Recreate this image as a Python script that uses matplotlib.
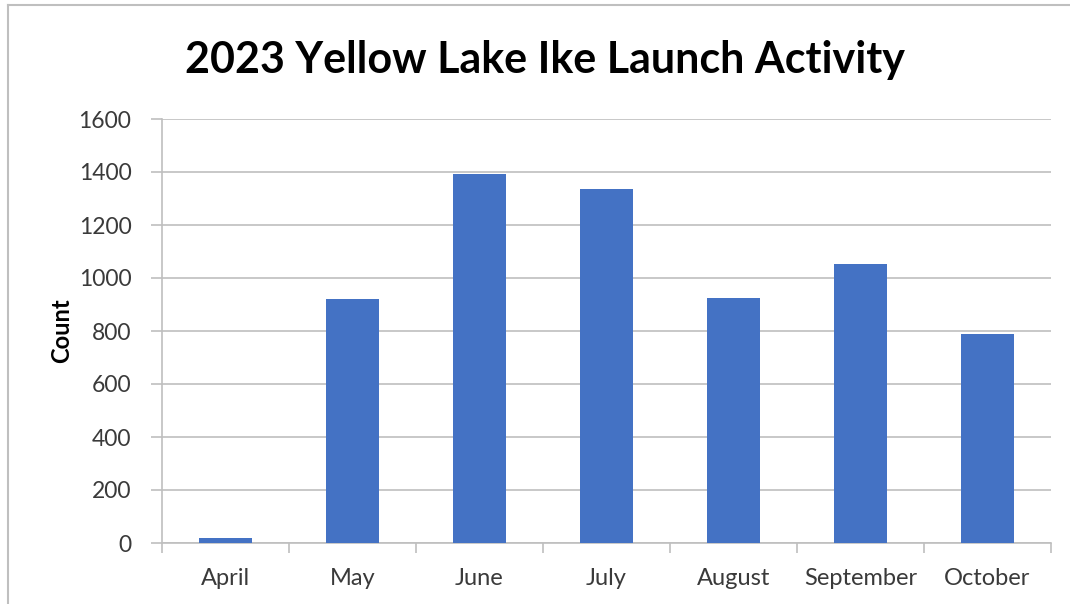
import matplotlib
matplotlib.use('Agg')
import matplotlib.pyplot as plt
from matplotlib.lines import Line2D

# ==================== Data ====================
months = ['April', 'May', 'June', 'July', 'August', 'September', 'October']
counts = [20, 920, 1393, 1336, 925, 1053, 789]
y_ticks = [0, 200, 400, 600, 800, 1000, 1200, 1400, 1600]

BAR_COLOR = '#4472C4'
GRID_COLOR = '#BFBFBF'
TEXT_COLOR = '#3A3A3A'

plt.rcParams.update({
    'font.family': ['Lato', 'DejaVu Sans'],
})

fig = plt.figure(figsize=(10.7, 6.04), dpi=100)
ax = fig.add_axes([162 / 1070, 1 - 543 / 604, 889 / 1070, 424 / 604])

x = list(range(len(months)))
ax.bar(x, counts, width=0.41, color=BAR_COLOR, zorder=3)

ax.set_xlim(-0.5, len(months) - 0.5)
ax.set_ylim(0, 1600)
ax.set_yticks(y_ticks)
ax.set_yticklabels([str(v) for v in y_ticks], fontsize=16.5, color=TEXT_COLOR)
ax.yaxis.grid(True, color=GRID_COLOR, linewidth=1.2, zorder=0)

# category labels at centres, tick marks between categories
ax.set_xticks(x)
ax.set_xticklabels(months, fontsize=17, color=TEXT_COLOR)
ax.tick_params(axis='x', length=0, pad=18)
ax.set_xticks([i - 0.5 for i in range(len(months) + 1)], minor=True)
ax.tick_params(axis='x', which='minor', length=7, width=1.2, color=GRID_COLOR, direction='out')
ax.tick_params(axis='y', length=8, width=1.2, color=GRID_COLOR, direction='out', pad=14)

for side in ['top', 'right']:
    ax.spines[side].set_visible(False)
for side in ['left', 'bottom']:
    ax.spines[side].set_color(GRID_COLOR)
    ax.spines[side].set_linewidth(1.2)

ax.set_ylabel('Count', fontsize=17, fontweight='bold', color='black', labelpad=4)

fig.text(545 / 1070, 1 - 60 / 604, '2023 Yellow Lake Ike Launch Activity',
         ha='center', va='center', fontsize=31, fontweight='bold', color='black')

# outer frame of the chart area (left and top edges visible)
fig.add_artist(Line2D([8 / 1070, 8 / 1070], [0, 1 - 5 / 604], transform=fig.transFigure,
                      color='#BFBFBF', linewidth=1.5))
fig.add_artist(Line2D([8 / 1070, 1], [1 - 5 / 604, 1 - 5 / 604], transform=fig.transFigure,
                      color='#BFBFBF', linewidth=1.5))

plt.savefig('out.png', dpi=100, facecolor='white')
plt.close()
